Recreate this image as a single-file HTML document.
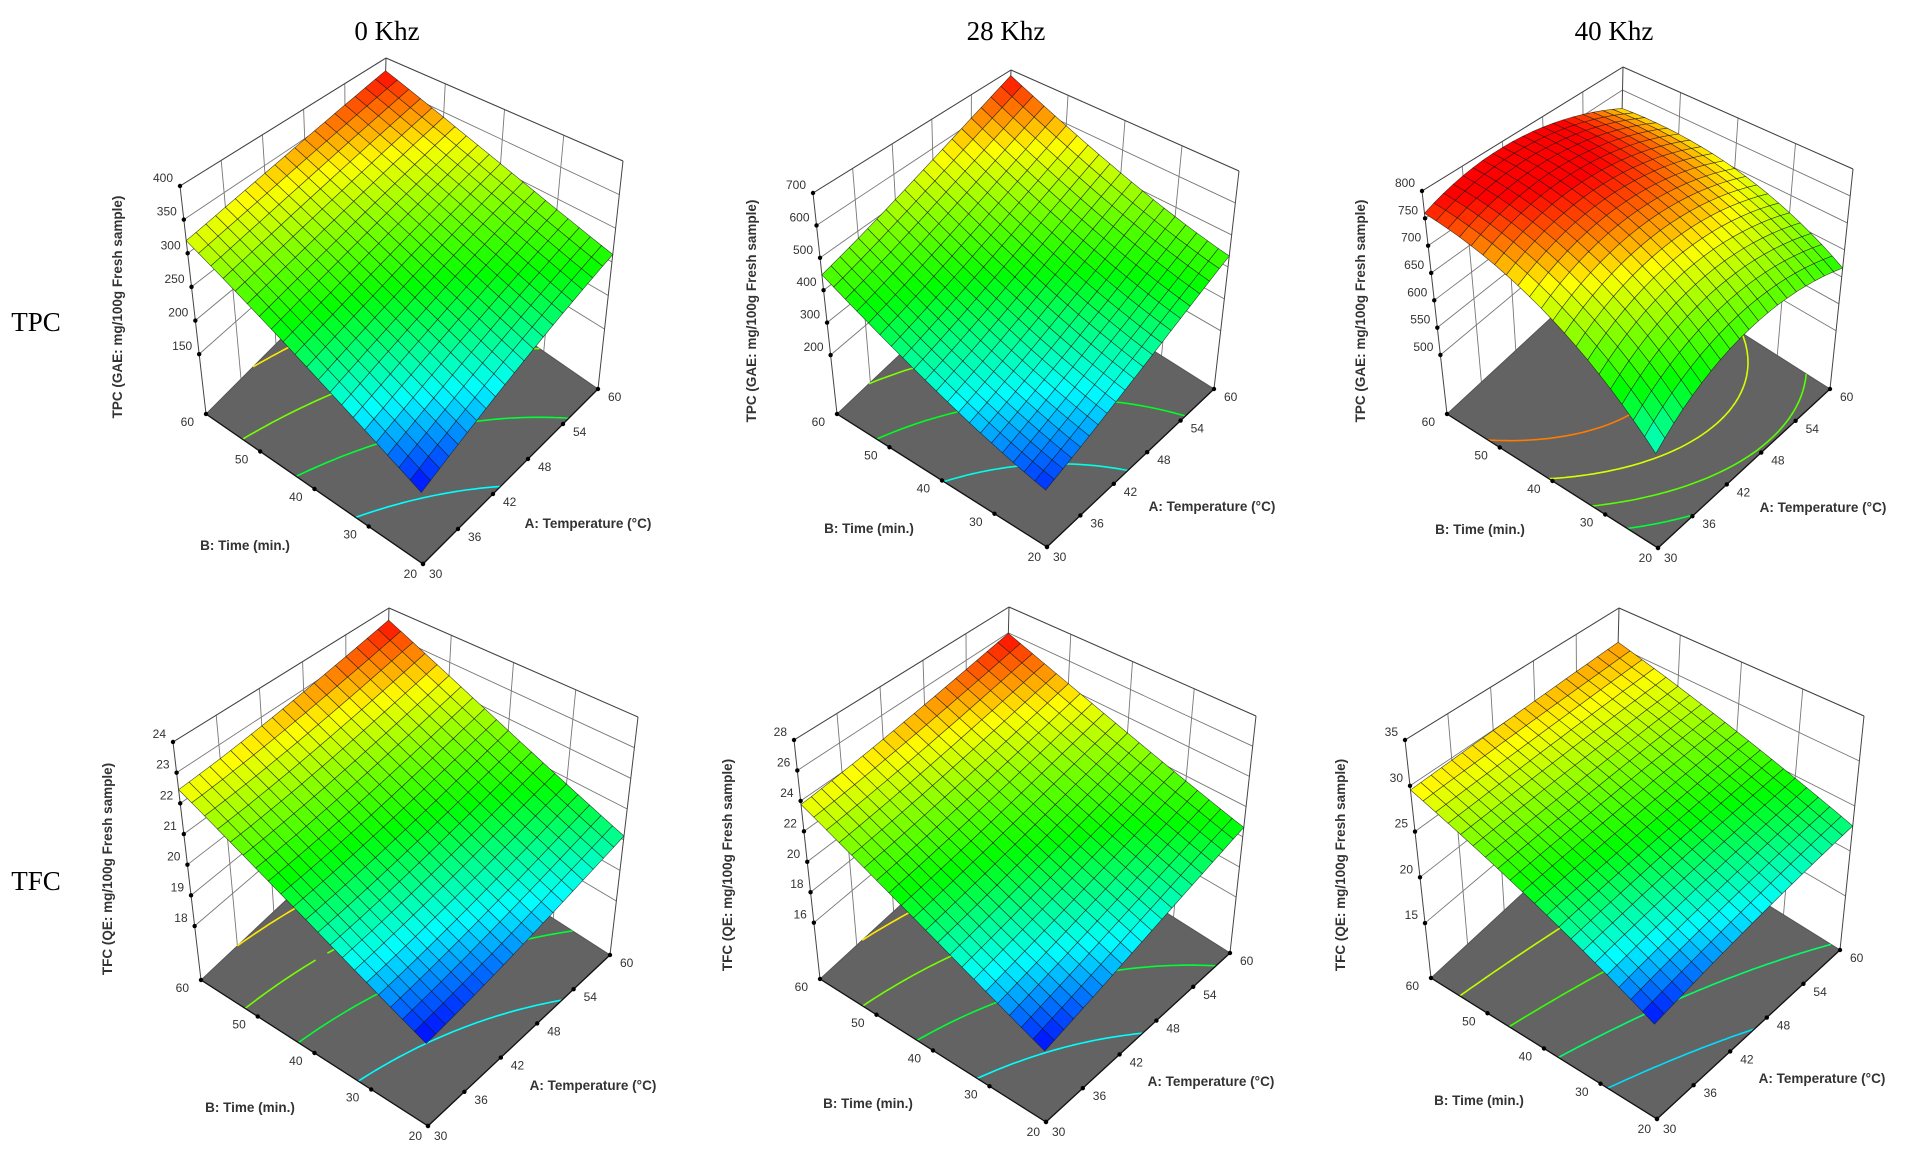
<!DOCTYPE html>
<html><head><meta charset="utf-8"><style>
html,body{margin:0;padding:0;background:#fff;}
svg{display:block;}
</style></head><body>
<svg id="s" xmlns="http://www.w3.org/2000/svg" width="1911" height="1161" viewBox="0 0 1911 1161">
<rect width="1911" height="1161" fill="#fff"/>
</svg>
<script>
(function(){
var NS="http://www.w3.org/2000/svg",svg=document.getElementById('s');
function el(t,a,p){var e=document.createElementNS(NS,t);for(var k in a)e.setAttribute(k,a[k]);(p||svg).appendChild(e);return e;}
var panels=[
{L:[206,414],B:[423,564],R:[598,389],TL:[180,186],TK:[386,58],TR:[623,161],
 c:[.26,.33,.5,-.16,.05,.1],lo:.26,hi:.93,zmin:61,zmax:400,ticks:[150,200,250,300,350,400],
 ylab:"TPC (GAE: mg/100g Fresh sample)",yl:[122,307]},
{L:[837,414],B:[1047,547],R:[1214,389],TL:[813,193],TK:[1011,70],TR:[1239,171],
 c:[.225,.385,.405,-.045,.15,.2],lo:.2,hi:.97,zmin:18,zmax:700,ticks:[200,300,400,500,600,700],
 ylab:"TPC (GAE: mg/100g Fresh sample)",yl:[756,311]},
{L:[1447,414],B:[1658,548],R:[1830,389],TL:[1422,191],TK:[1623,67],TR:[1853,169],
 c:[.37,.18,.53,-.3,-.5,-.35],lo:.2,hi:.93,zmin:392,zmax:800,ticks:[500,550,600,650,700,750,800],
 ylab:"TPC (GAE: mg/100g Fresh sample)",yl:[1365,311]},
{L:[201,980],B:[428,1126],R:[610,955],TL:[173,742],TK:[389,608],TR:[638,717],
 c:[.30,.2,.5,-.06,.1,.12],lo:.3,hi:.94,zmin:16.24,zmax:24,ticks:[18,19,20,21,22,23,24],
 ylab:"TFC (QE: mg/100g Fresh sample)",yl:[112,869]},
{L:[820,979],B:[1046,1122],R:[1230,953],TL:[794,740],TK:[1009,607],TR:[1256,716],
 c:[.26,.27,.47,-.13,.08,.1],lo:.26,hi:.87,zmin:12.3,zmax:28,ticks:[16,18,20,22,24,26,28],
 ylab:"TFC (QE: mg/100g Fresh sample)",yl:[732,865]},
{L:[1431,978],B:[1657,1119],R:[1840,950],TL:[1405,740],TK:[1619,608],TR:[1864,716],
 c:[.35,.18,.44,-.14,0,0],lo:.35,hi:.9,zmin:9,zmax:35,ticks:[15,20,25,30,35],
 ylab:"TFC (QE: mg/100g Fresh sample)",yl:[1345,865]}
];
function cmap(t){t=Math.max(0,Math.min(1,t));
 var st=[[0,0,0,255],[.2,0,255,255],[.45,0,255,0],[.78,255,255,0],[1,255,0,0]];
 for(var i=0;i<4;i++){if(t<=st[i+1][0]){var f=(t-st[i][0])/(st[i+1][0]-st[i][0]);
  return 'rgb('+[1,2,3].map(function(j){return Math.round(st[i][j]+(st[i+1][j]-st[i][j])*f)}).join(',')+')';}}
 return 'rgb(255,0,0)';}
panels.forEach(function(p){
 var F00=p.B,F10=p.R,F01=p.L,F11=[p.L[0]+p.R[0]-p.B[0],p.L[1]+p.R[1]-p.B[1]];
 var T11=p.TK,T10=p.TR,T01=p.TL,T00=[p.TL[0]+p.TR[0]-p.TK[0],p.TL[1]+p.TR[1]-p.TK[1]];
 function bil(q00,q10,q01,q11,a,b,i){return q00[i]*(1-a)*(1-b)+q10[i]*a*(1-b)+q01[i]*(1-a)*b+q11[i]*a*b;}
 function P(a,b,w){var r=[];for(var i=0;i<2;i++){var f=bil(F00,F10,F01,F11,a,b,i),t=bil(T00,T10,T01,T11,a,b,i);r.push(f+(t-f)*w);}return r;}
 function pt(q){return q[0].toFixed(1)+','+q[1].toFixed(1);}
 function line(q1,q2,st,sw){el('line',{x1:q1[0],y1:q1[1],x2:q2[0],y2:q2[1],stroke:st,'stroke-width':sw});}
 var c=p.c;function Z(a,b){return c[0]+c[1]*a+c[2]*b+c[3]*a*b+c[4]*(a*a-a)+c[5]*(b*b-b);}
 function W(v){return (v-p.zmin)/(p.zmax-p.zmin);}
 var atk=[0.2,0.4,0.6,0.8],btk=[0.25,0.5,0.75];
 atk.forEach(function(a){line(P(a,1,0),P(a,1,1),'#777',0.9);});
 btk.forEach(function(b){line(P(1,b,0),P(1,b,1),'#777',0.9);});
 p.ticks.forEach(function(v){var w=W(v);line(P(0,1,w),P(1,1,w),'#777',0.9);line(P(1,1,w),P(1,0,w),'#777',0.9);});
 line(P(0,1,0),P(0,1,1),'#444',1);line(P(1,1,0),P(1,1,1),'#444',1);line(P(1,0,0),P(1,0,1),'#444',1);
 line(P(0,1,1),P(1,1,1),'#444',1);line(P(1,1,1),P(1,0,1),'#444',1);
 el('polygon',{points:[F00,F10,F11,F01].map(pt).join(' '),fill:'#636363',stroke:'#555','stroke-width':1});
 var M=40,zmn=1e9,zmx=-1e9,grid=[];
 for(var i=0;i<=M;i++){grid.push([]);for(var j=0;j<=M;j++){var z=Z(i/M,j/M);grid[i].push(z);zmn=Math.min(zmn,z);zmx=Math.max(zmx,z);}}
 var cg=el('g',{'stroke-width':1.6,fill:'none'});
 for(var k=1;k<=4;k++){var lev=zmn+(zmx-zmn)*k/5,col=cmap((lev-p.lo)/(p.hi-p.lo)),d='';
  for(var i=0;i<M;i++)for(var j=0;j<M;j++){
   var cs=[[i,j],[i+1,j],[i+1,j+1],[i,j+1]],pts=[];
   for(var e=0;e<4;e++){var u=cs[e],v=cs[(e+1)%4],zu=grid[u[0]][u[1]],zv=grid[v[0]][v[1]];
    if((zu-lev)*(zv-lev)<0){var f=(lev-zu)/(zv-zu);pts.push(P((u[0]+(v[0]-u[0])*f)/M,(u[1]+(v[1]-u[1])*f)/M,0));}}
   if(pts.length>=2){d+='M'+pt(pts[0])+'L'+pt(pts[1]);if(pts.length==4)d+='M'+pt(pts[2])+'L'+pt(pts[3]);}
  }
  if(d)el('path',{d:d,stroke:col},cg);}
 line(F01,F00,'#111',1.3);line(F00,F10,'#111',1.3);
 var N=20,cells=[];
 for(var i=0;i<N;i++)for(var j=0;j<N;j++)cells.push([i,j]);
 cells.sort(function(x,y){return (y[0]+y[1])-(x[0]+x[1]);});
 var sg=el('g',{stroke:'#1a1a1a','stroke-width':0.6,'stroke-opacity':0.8});
 cells.forEach(function(cl){var a0=cl[0]/N,a1=(cl[0]+1)/N,b0=cl[1]/N,b1=(cl[1]+1)/N;
  var zc=Z((a0+a1)/2,(b0+b1)/2);
  el('polygon',{points:[P(a0,b0,Z(a0,b0)),P(a1,b0,Z(a1,b0)),P(a1,b1,Z(a1,b1)),P(a0,b1,Z(a0,b1))].map(pt).join(' '),
   fill:cmap((zc-p.lo)/(p.hi-p.lo))},sg);});
 var tg=el('g',{'font-family':"'Liberation Sans', sans-serif",'font-size':12,fill:'#333'});
 p.ticks.forEach(function(v){var q=P(0,1,W(v));el('circle',{cx:q[0],cy:q[1],r:2.2,fill:'#000'});
  var t=el('text',{x:q[0]-7,y:q[1]-4,'text-anchor':'end'},tg);t.textContent=v;});
 [20,30,40,50,60].forEach(function(v){var b=(v-20)/40,q=P(0,b,0);el('circle',{cx:q[0],cy:q[1],r:2.2,fill:'#000'});
  var t=el('text',{x:q[0]-(v==20?6:12),y:q[1]+(v==20?14:12),'text-anchor':'end'},tg);t.textContent=v;});
 [30,36,42,48,54,60].forEach(function(v){var a=(v-30)/30,q=P(a,0,0);el('circle',{cx:q[0],cy:q[1],r:2.2,fill:'#000'});
  var t=el('text',{x:q[0]+(v==30?6:10),y:q[1]+(v==30?14:12),'text-anchor':'start'},tg);t.textContent=v;});
 var lg=el('g',{'font-family':"'Liberation Sans', sans-serif",'font-size':13.5,'font-weight':'bold',fill:'#333','text-anchor':'middle'});
 var t=el('text',{x:F00[0]-178,y:F00[1]-14},lg);t.textContent="B: Time (min.)";
 t=el('text',{x:F00[0]+165,y:F00[1]-36},lg);t.textContent="A: Temperature (°C)";
 t=el('text',{x:p.yl[0],y:p.yl[1],transform:'rotate(-90 '+p.yl[0]+' '+p.yl[1]+')'},lg);t.textContent=p.ylab;
});
var hg=el('g',{'font-family':"'Liberation Serif', serif",'font-size':27,fill:'#000','text-anchor':'middle'});
[["0 Khz",387,40],["28 Khz",1006,40],["40 Khz",1614,40],["TPC",36,331],["TFC",36,890]].forEach(function(a){
 var t=el('text',{x:a[1],y:a[2]},hg);t.textContent=a[0];});
})();
</script>
</body></html>
